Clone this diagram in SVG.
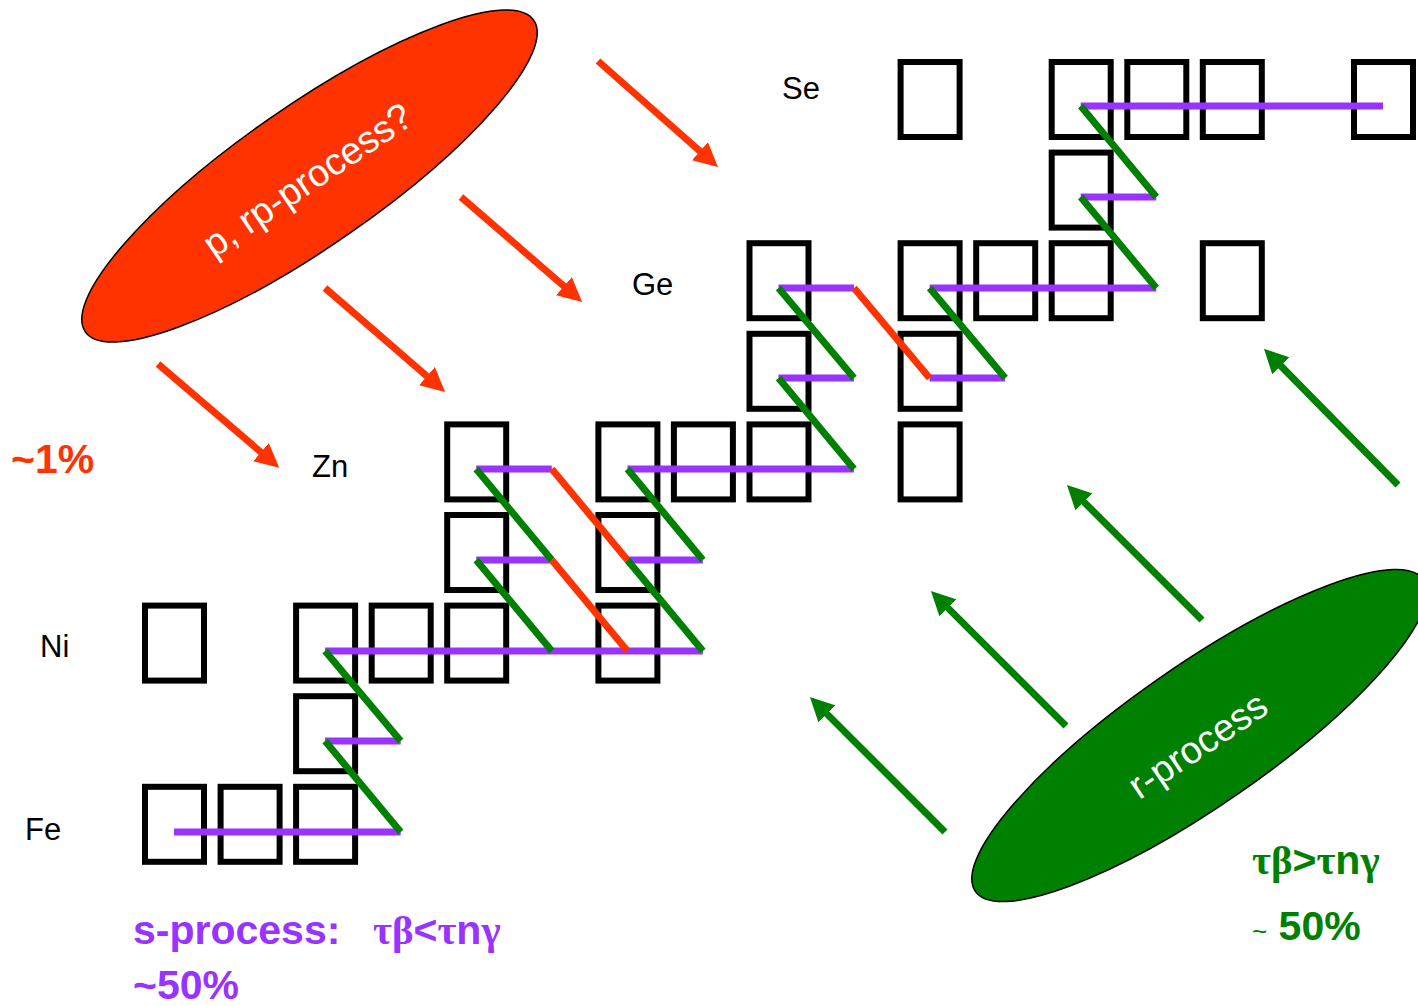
<svg xmlns="http://www.w3.org/2000/svg" width="1418" height="1006" viewBox="0 0 1418 1006">
<defs>
<style>
.box{fill:none;stroke:#000;stroke-width:6}
.lbl{font-family:"Liberation Sans",Arial,sans-serif;font-size:31px;fill:#000}
.pur{stroke:#9933FF;stroke-width:7;fill:none}
.grn{stroke:#008000;stroke-width:7;fill:none}
.red{stroke:#FF3300;stroke-width:7;fill:none}
.ra{stroke:#FF3300;stroke-width:7;fill:none;marker-end:url(#hr)}
.ga{stroke:#008000;stroke-width:7;fill:none;marker-end:url(#hg)}
.big{font-family:"Liberation Sans",Arial,sans-serif;font-weight:bold;font-size:41px}
.gk{font-family:"Liberation Serif","Times New Roman",serif}
.etxt{font-family:"Liberation Sans",Arial,sans-serif;font-size:38px;fill:#fff;text-anchor:middle}
</style>
<marker id="hr" markerUnits="userSpaceOnUse" markerWidth="24" markerHeight="24" viewBox="0 0 24 24" refX="4" refY="12" orient="auto"><path d="M0,0 L24,12 L0,24 z" fill="#FF3300"/></marker>
<marker id="hg" markerUnits="userSpaceOnUse" markerWidth="24" markerHeight="24" viewBox="0 0 24 24" refX="4" refY="12" orient="auto"><path d="M0,0 L24,12 L0,24 z" fill="#008000"/></marker>
</defs>
<rect width="1418" height="1006" fill="#fff"/>

<g id="p-process">
<ellipse cx="309.5" cy="176" rx="273" ry="70" transform="rotate(-34.8 309.5 176)" fill="#FF3300" stroke="#000" stroke-width="1.5"/>
<text class="etxt" transform="translate(309.5 176) rotate(-34)" x="-4" y="15">p, rp-process?</text>
</g>
<g id="r-process">
<ellipse cx="1199.5" cy="735.5" rx="273" ry="70" transform="rotate(-34.8 1199.5 735.5)" fill="#008000" stroke="#000" stroke-width="1.5"/>
<text class="etxt" transform="translate(1199.5 735.5) rotate(-34)" x="-7" y="20">r-process</text>
</g>

<g id="labels">
<text class="lbl" x="782" y="99">Se</text>
<text class="lbl" x="632" y="295">Ge</text>
<text class="lbl" x="312" y="477">Zn</text>
<text class="lbl" x="40" y="657">Ni</text>
<text class="lbl" x="25" y="840">Fe</text>
</g>

<g id="boxes">
<g id="fe-row">
<rect class="box" x="145" y="786.8" width="59" height="75"/>
<rect class="box" x="220.6" y="786.8" width="59" height="75"/>
<rect class="box" x="296.1" y="786.8" width="59" height="75"/>
</g>
<g id="row-693">
<rect class="box" x="296.1" y="696.2" width="59" height="75"/>
</g>
<g id="ni-row">
<rect class="box" x="145" y="605.6" width="59" height="75"/>
<rect class="box" x="296.1" y="605.6" width="59" height="75"/>
<rect class="box" x="371.7" y="605.6" width="59" height="75"/>
<rect class="box" x="447.2" y="605.6" width="59" height="75"/>
<rect class="box" x="598.4" y="605.6" width="59" height="75"/>
</g>
<g id="row-512">
<rect class="box" x="447.2" y="515" width="59" height="75"/>
<rect class="box" x="598.4" y="515" width="59" height="75"/>
</g>
<g id="zn-row">
<rect class="box" x="447.2" y="424.4" width="59" height="75"/>
<rect class="box" x="598.4" y="424.4" width="59" height="75"/>
<rect class="box" x="673.9" y="424.4" width="59" height="75"/>
<rect class="box" x="749.5" y="424.4" width="59" height="75"/>
<rect class="box" x="900.6" y="424.4" width="59" height="75"/>
</g>
<g id="row-331">
<rect class="box" x="749.5" y="333.8" width="59" height="75"/>
<rect class="box" x="900.6" y="333.8" width="59" height="75"/>
</g>
<g id="ge-row">
<rect class="box" x="749.5" y="243.2" width="59" height="75"/>
<rect class="box" x="900.6" y="243.2" width="59" height="75"/>
<rect class="box" x="976.2" y="243.2" width="59" height="75"/>
<rect class="box" x="1051.7" y="243.2" width="59" height="75"/>
<rect class="box" x="1202.8" y="243.2" width="59" height="75"/>
</g>
<g id="row-150">
<rect class="box" x="1051.7" y="152.6" width="59" height="75"/>
</g>
<g id="se-row">
<rect class="box" x="900.6" y="62" width="59" height="75"/>
<rect class="box" x="1051.7" y="62" width="59" height="75"/>
<rect class="box" x="1127.3" y="62" width="59" height="75"/>
<rect class="box" x="1202.8" y="62" width="59" height="75"/>
<rect class="box" x="1354" y="62" width="59" height="75"/>
</g>
</g>

<g id="connectors">
<g id="s-path">
<line class="pur" x1="174" y1="832" x2="400.7" y2="832"/>
<line class="pur" x1="325.1" y1="741" x2="400.7" y2="741"/>
<line class="pur" x1="325.1" y1="651" x2="702.9" y2="651"/>
<line class="pur" x1="476.2" y1="560" x2="551.8" y2="560"/>
<line class="pur" x1="627.4" y1="560" x2="702.9" y2="560"/>
<line class="pur" x1="476.2" y1="469" x2="551.8" y2="469"/>
<line class="pur" x1="627.4" y1="469" x2="854" y2="469"/>
<line class="pur" x1="778.5" y1="378" x2="854" y2="378"/>
<line class="pur" x1="929.6" y1="378" x2="1005.2" y2="378"/>
<line class="pur" x1="778.5" y1="288" x2="854" y2="288"/>
<line class="pur" x1="929.6" y1="288" x2="1156.3" y2="288"/>
<line class="pur" x1="1080.7" y1="197" x2="1156.3" y2="197"/>
<line class="pur" x1="1080.7" y1="106" x2="1383" y2="106"/>
</g>
<g id="beta-decays">
<line class="grn" x1="325.1" y1="651" x2="400.7" y2="741"/>
<line class="grn" x1="325.1" y1="741" x2="400.7" y2="832"/>
<line class="grn" x1="476.2" y1="469" x2="551.8" y2="560"/>
<line class="grn" x1="476.2" y1="560" x2="551.8" y2="651"/>
<line class="red" x1="551.8" y1="469" x2="627.4" y2="560"/>
<line class="red" x1="551.8" y1="560" x2="627.4" y2="651"/>
<line class="grn" x1="627.4" y1="469" x2="702.9" y2="560"/>
<line class="grn" x1="627.4" y1="560" x2="702.9" y2="651"/>
<line class="grn" x1="778.5" y1="288" x2="854" y2="378"/>
<line class="grn" x1="778.5" y1="378" x2="854" y2="469"/>
<line class="red" x1="854" y1="288" x2="929.6" y2="378"/>
<line class="grn" x1="929.6" y1="288" x2="1005.2" y2="378"/>
<line class="grn" x1="1080.7" y1="106" x2="1156.3" y2="197"/>
<line class="grn" x1="1080.7" y1="197" x2="1156.3" y2="288"/>
</g>
<g id="red-arrows">
<line class="ra" x1="598" y1="61" x2="703" y2="153.8"/>
<line class="ra" x1="461" y1="197" x2="567" y2="288.8"/>
<line class="ra" x1="325" y1="288" x2="430" y2="378.8"/>
<line class="ra" x1="158" y1="364" x2="264" y2="454.8"/>
</g>
<g id="green-arrows">
<line class="ga" x1="945" y1="832" x2="824.1" y2="711.1"/>
<line class="ga" x1="1066" y1="726" x2="945.1" y2="605.1"/>
<line class="ga" x1="1202" y1="620" x2="1081.1" y2="499.1"/>
<line class="ga" x1="1398" y1="485" x2="1278" y2="363"/>
</g>
</g>

<g id="annotations">
<text class="big" x="11" y="473" fill="#FF3300" font-size="42px">~1%</text>
<text class="big" x="133" y="944" fill="#9933FF">s-process:<tspan class="gk" x="373">τβ</tspan>&lt;<tspan class="gk">τ</tspan>n<tspan class="gk">γ</tspan></text>
<text class="big" x="133" y="999" fill="#9933FF">~50%</text>
<text class="big" x="1252" y="874" fill="#008000"><tspan class="gk">τβ</tspan>&gt;<tspan class="gk">τ</tspan>n<tspan class="gk">γ</tspan></text>
<text class="big" x="1252" y="940" fill="#008000"><tspan font-size="26px" font-weight="normal">~</tspan> 50%</text>
</g>
</svg>
